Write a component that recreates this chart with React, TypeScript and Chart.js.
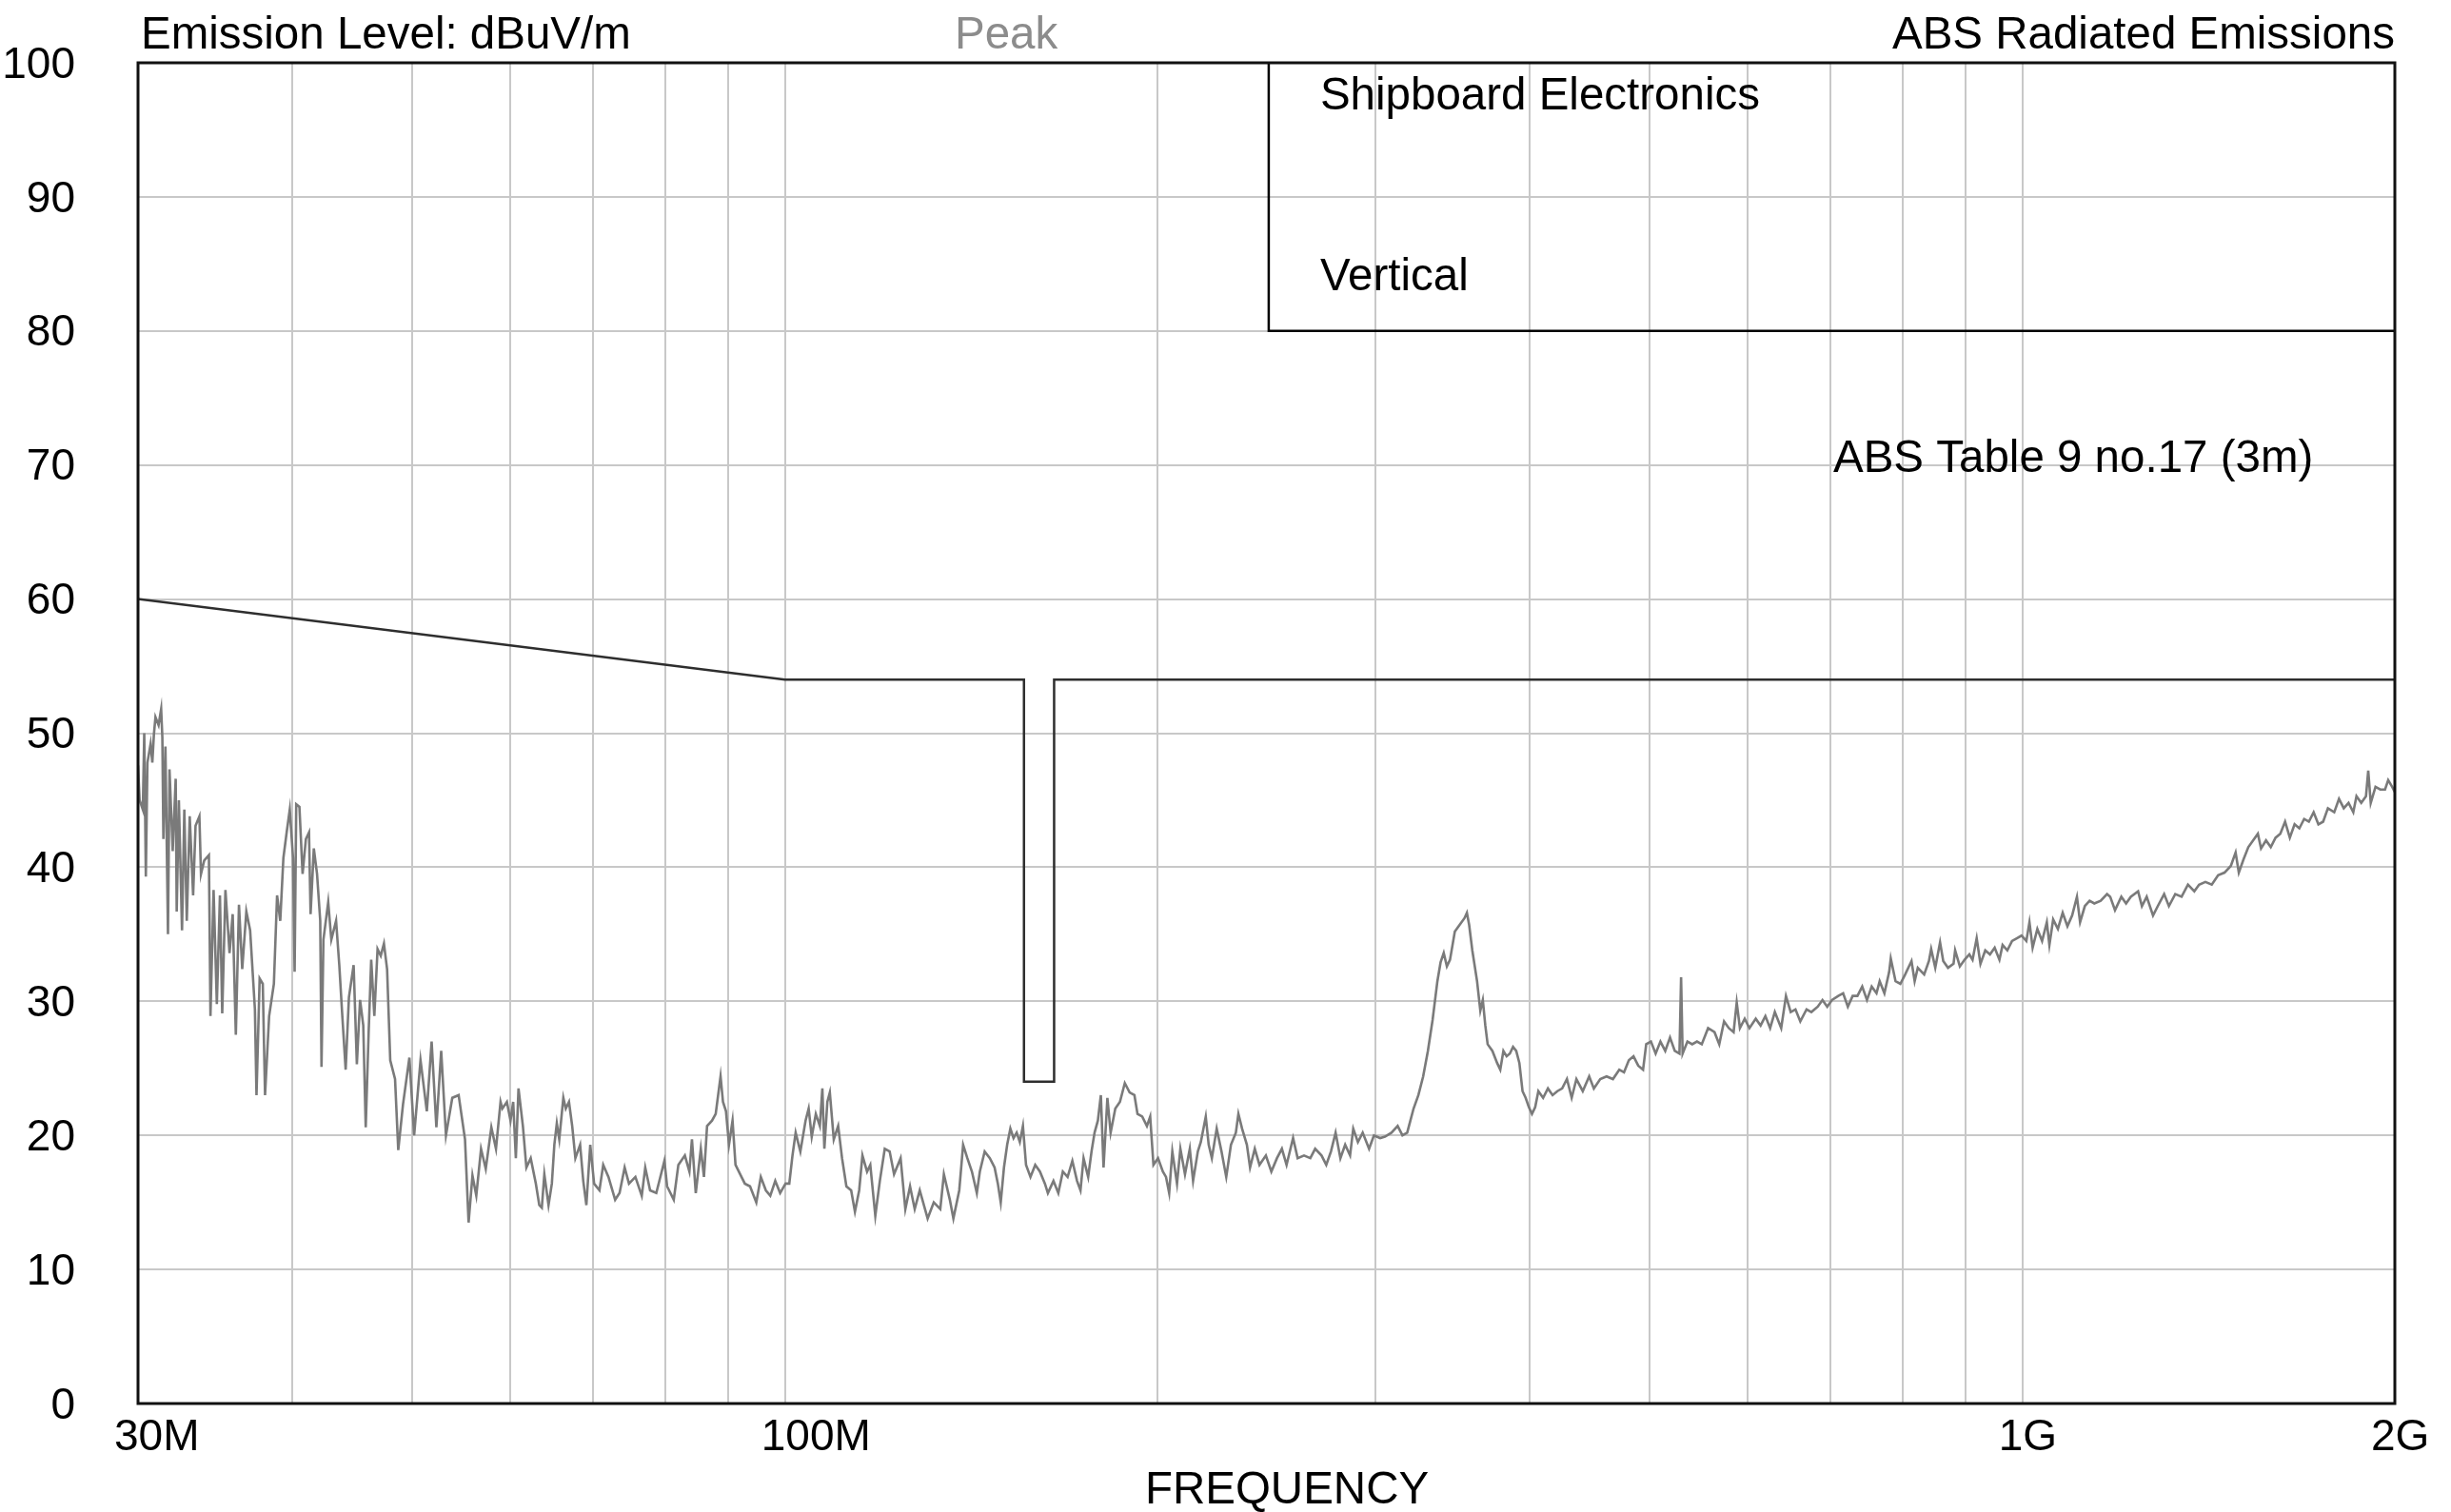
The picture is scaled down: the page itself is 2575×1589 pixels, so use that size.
import React, { useEffect, useRef } from 'react';
import { Chart, registerables } from 'chart.js';

Chart.register(...registerables);

// ---------- data ----------
const traceFreqMHz = [
  30.00, 30.09, 30.27, 30.35, 30.44, 30.53, 30.71, 30.81, 30.90, 30.99, 31.17, 31.32, 31.39, 31.45, 31.57, 31.72, 31.81, 32.00, 32.18, 32.24,
  32.37, 32.56, 32.70, 32.85, 33.03, 33.24, 33.39, 33.63, 33.73, 33.93, 34.23, 34.33, 34.53, 34.74, 34.94, 35.09, 35.30, 35.57, 35.78, 35.99,
  36.20, 36.42, 36.70, 36.96, 37.29, 37.40, 37.62, 37.84, 38.00, 38.29, 38.63, 38.86, 39.09, 39.32, 39.56, 39.79, 40.03, 40.15, 40.27, 40.51,
  40.75, 41.00, 41.24, 41.36, 41.61, 41.86, 42.11, 42.21, 42.36, 42.74, 42.99, 43.37, 43.63, 43.89, 44.15, 44.42, 44.81, 45.08, 45.35, 45.62,
  45.83, 46.08, 46.30, 46.57, 46.85, 47.13, 47.41, 47.69, 47.97, 48.40, 48.69, 49.12, 49.71, 50.15, 50.75, 51.35, 51.81, 52.27, 52.74, 53.21,
  53.84, 54.48, 55.13, 55.5, 55.9, 56.3, 56.8, 57.3, 57.9, 58.4, 58.9,
  59.1, 59.6, 60.0, 60.3, 60.6, 60.9, 61.4, 61.8, 62.3, 62.9, 63.3, 63.6, 63.9, 64.4, 64.8, 65.1, 65.4, 65.7, 66.2, 66.5,
  66.9, 67.3, 67.7, 68.3, 68.7, 69.1, 69.6, 70.1, 70.8, 71.3, 72.0, 72.9, 73.5, 74.2, 74.8, 75.7, 76.6, 77.1, 77.8, 78.7,
  79.9, 80.3, 81.3, 82.0, 83.0, 83.7, 84.1, 84.7, 85.5, 86.0, 86.5, 87.3, 87.9, 88.7, 89.1, 89.6, 90.1, 90.7, 91.2, 92.0,
  92.8, 93.7, 94.8, 95.6, 96.5, 97.3, 98.2, 99.1, 100.1, 100.8, 101.4, 102.0, 102.9, 103.9, 104.5, 105.1, 105.9, 106.7, 107.2, 107.6,
  108.2, 108.7, 109.5, 110.4, 111.2, 112.1, 113.1, 113.9, 114.8, 115.5, 116.5, 117.2, 118.3, 119.3, 120.4, 121.5, 122.5, 124.0, 125.1, 126.2,
  127.3, 128.5, 130.4, 131.9, 133.5, 134.4, 135.9, 136.8, 138.3, 139.3, 140.4, 141.6, 142.9, 143.7, 145.0,
  146.4, 147.7, 148.6, 149.4, 150.3, 151.2, 152.1, 153.0, 153.9, 154.8, 155.7, 156.6, 157.9, 159.3, 160.7, 162.2, 163.1, 164.8, 166.3, 167.7,
  169.2, 170.7, 172.2, 173.3, 174.3, 175.8, 176.9, 177.9, 179.0, 180.0, 180.9, 182.2, 183.3, 184.9, 186.5, 188.2, 189.9, 191.6, 192.7, 194.4,
  196.1, 197.3, 198.5, 200.2, 202.0, 203.2, 204.4, 205.6, 207.4, 208.7, 210.5, 212.4, 213.7, 215.6, 216.8, 218.8, 220.0, 221.3, 223.3, 225.3,
  227.3, 229.3, 231.4, 232.5, 234.1, 236.2, 237.6, 239.7, 241.8, 244.7, 247.2, 249.8, 252.1, 254.3, 257.4, 259.6, 262.7, 265.8, 268.2, 271.4,
  273.8, 276.2, 278.6, 281.1, 283.6, 286.2, 287.9, 290.4, 293.0, 296.5, 299.2, 302.7, 305.4, 309.1, 312.7, 315.5, 318.3, 320.2, 322.1, 325.0,
  327.9, 330.8, 333.7, 336.7, 338.7, 340.7, 342.7, 344.7, 347.8, 350.9, 354.1, 355.7, 357.2, 359.3, 362.5, 364.7,
  366.4, 368.1, 369.7, 373.0, 376.3, 378.5, 380.7, 383.0, 385.3, 387.6, 389.9, 392.2, 394.5, 396.8, 399.2, 401.5, 403.9, 406.3, 409.9, 413.6,
  417.2, 420.9, 424.7, 428.5, 432.3, 436.1, 441.3, 446.6, 450.5, 455.9, 461.3, 466.8, 472.3, 476.5, 480.8, 485.0, 489.3, 493.7, 496.6, 501.0,
  505.4, 509.9, 514.5, 519.1, 523.7, 528.3, 529.9, 531.4, 536.2, 541.0, 545.8, 550.7, 557.2, 563.9, 568.9, 574.0, 579.1, 584.3, 587.7, 591.2,
  596.5, 601.8, 608.9, 614.4, 619.9, 625.4, 630.9, 638.4, 644.1, 649.8, 655.6, 661.5, 669.3, 675.3, 683.3, 689.4, 695.5, 701.7, 710.0, 716.4,
  722.7, 729.2, 735.7, 742.3, 748.9, 755.5, 762.3, 766.8, 773.6, 780.5, 782.8, 789.8, 796.9, 804.0, 813.6, 818.4, 823.2, 833.0, 840.4, 843.9,
  850.4, 858.0, 863.1, 870.8,
  879.8, 882.4, 890.2, 898.1, 906.1, 911.5, 918.5, 925.0, 933.3, 941.5, 949.8, 958.2, 963.9, 972.4, 981.0, 989.7, 998.5, 1007.4, 1013.3, 1019.3,
  1028.3, 1037.4, 1046.6, 1051.6, 1059.0, 1068.4, 1077.9, 1087.5, 1097.1, 1106.9, 1113.4, 1123.3, 1133.3, 1143.3, 1156.9, 1170.7, 1177.6, 1188.1, 1202.2, 1212.9,
  1223.6, 1240.3, 1249.2, 1260.3, 1275.3, 1286.6, 1301.9, 1313.5, 1329.1, 1344.9, 1360.9, 1377.1, 1389.3, 1405.8, 1422.6, 1439.5, 1456.7, 1474.0, 1487.1, 1496.0,
  1509.3, 1522.7, 1536.3, 1550.0, 1559.2, 1573.7, 1587.7, 1601.8, 1616.1, 1630.5, 1645.0, 1659.6, 1674.4, 1689.3, 1704.3, 1719.5, 1734.8, 1750.2, 1765.8, 1786.7,
  1802.6, 1818.7, 1834.9, 1851.2, 1862.2, 1878.8, 1895.5, 1903.4, 1912.3, 1929.3, 1946.5, 1963.8, 1975.4, 1990.0, 2000.0,
];

const traceLevel = [
  47.6, 45.0, 44.3, 50.0, 39.3, 47.8, 49.2, 47.8, 49.9, 51.2, 50.6, 51.8, 49.7, 42.1, 49.0, 35.0, 47.3, 41.2, 46.6, 36.7,
  45.0, 35.3, 44.3, 36.0, 43.8, 37.9, 43.1, 43.8, 39.5, 40.5, 40.9, 28.9, 38.3, 29.8, 37.9, 29.1, 38.3, 33.6, 36.5, 27.5,
  37.2, 32.4, 36.7, 35.3, 29.4, 23.0, 31.7, 31.3, 23.0, 28.9, 31.3, 37.9, 36.0, 40.7, 42.6, 44.3, 40.7, 32.2, 44.7, 44.5,
  39.5, 42.1, 42.6, 36.5, 41.4, 39.5, 36.0, 25.1, 34.6, 37.4, 34.6, 36.0, 32.7, 28.7, 24.9, 30.3, 32.7, 25.3, 30.1, 28.2,
  20.6, 27.7, 33.1, 28.9, 33.9, 33.4, 34.3, 32.4, 25.6, 24.2, 18.9, 22.3, 25.8, 20.0, 25.6, 21.8, 27.0, 20.6, 26.3, 20.0,
  22.8, 23.0, 19.7, 13.5, 17.0, 15.5, 19.0, 17.5, 20.6, 19.0, 22.5,
  22.0, 22.5, 21.1, 22.5, 18.3, 23.5, 20.7, 17.6, 18.3, 16.4, 14.8, 14.6, 17.1, 14.8, 16.4, 19.3, 20.9, 19.7, 22.8, 22.0,
  22.5, 20.7, 18.3, 19.3, 16.6, 14.8, 19.3, 16.4, 15.9, 17.8, 16.9, 15.2, 15.7, 17.6, 16.4, 16.9, 15.5, 17.6, 15.9, 15.7,
  18.1, 16.2, 15.2, 17.8, 18.5, 17.3, 19.7, 15.7, 19.0, 16.9, 20.7, 21.1, 21.6, 24.4, 22.5, 21.8, 19.3, 21.1, 17.8, 17.1,
  16.4, 16.2, 15.0, 16.9, 15.9, 15.5, 16.6, 15.7, 16.4, 16.4, 18.5, 20.2, 18.8, 21.1, 22.0, 19.9, 21.6, 20.7, 23.5, 19.0,
  22.5, 23.2, 19.7, 20.7, 18.3, 16.2, 15.9, 14.3, 15.9, 18.5, 17.3, 17.8, 14.0, 16.6, 19.0, 18.8, 17.1, 18.3, 14.5, 16.2,
  14.5, 15.9, 13.8, 15.0, 14.5, 17.1, 15.2, 13.8, 15.9, 19.3, 18.3, 17.3, 15.7, 17.3, 18.8,
  18.3, 17.6, 16.4, 15.0, 17.6, 19.3, 20.5, 19.8, 20.2, 19.5, 20.7, 17.8, 16.9, 17.8, 17.3, 16.4, 15.7, 16.6, 15.7, 17.3,
  16.9, 18.1, 16.6, 15.9, 18.3, 16.9, 18.8, 20.2, 21.1, 23.0, 17.6, 22.8, 20.2, 22.0, 22.5, 23.9, 23.2, 23.0, 21.6, 21.4,
  20.7, 21.4, 17.8, 18.3, 17.3, 16.9, 15.7, 18.8, 16.4, 19.0, 17.1, 19.0, 16.6, 18.8, 19.5, 21.4, 19.3, 18.3, 20.5, 18.8,
  16.9, 19.3, 20.2, 21.6, 20.5, 19.3, 17.6, 19.0, 17.8, 18.5, 17.3, 18.3, 19.0, 17.8, 19.8, 18.3, 18.5, 18.3, 19.0, 18.5,
  17.8, 18.8, 20.2, 18.3, 19.3, 18.5, 20.5, 19.5, 20.2, 19.0, 20.0, 19.8, 19.9, 20.2, 20.7, 20.0, 20.2, 21.1, 22.0, 23.0,
  24.4, 26.3, 28.6, 31.5, 32.9, 33.6, 32.6, 33.1, 35.2, 35.7, 36.2, 36.6, 35.7, 33.8, 31.5, 29.3,
  30.1, 28.2, 26.8, 26.3, 25.4, 24.9, 26.3, 25.9, 26.1, 26.6, 26.3, 25.4, 23.3, 22.8, 22.1, 21.6, 22.1, 23.3, 22.8, 23.5,
  23.0, 23.3, 23.5, 24.2, 22.8, 24.2, 23.3, 24.4, 23.5, 24.2, 24.4, 24.2, 24.9, 24.7, 25.6, 25.9, 25.2, 24.9, 26.8, 27.0,
  26.1, 27.0, 26.3, 27.3, 26.3, 26.1, 31.8, 26.1, 27.0, 26.8, 27.0, 26.8, 28.0, 27.7, 26.8, 28.5, 28.0, 27.7, 29.9, 28.0,
  28.7, 28.0, 28.7, 28.2, 28.9, 28.0, 29.2, 28.0, 30.4, 29.2, 29.4, 28.5, 29.4, 29.2, 29.6, 30.1, 29.6, 30.1, 30.4, 30.6,
  29.6, 30.4, 30.4, 31.1, 30.1, 31.1, 30.6, 31.5, 30.6, 32.2, 33.2, 31.5, 31.3, 32.0, 33.0, 31.5, 32.5, 32.0, 33.0, 33.9,
  32.5, 34.4, 33.0, 32.5,
  32.8, 33.8, 32.6, 33.1, 33.5, 33.1, 34.7, 32.8, 33.8, 33.5, 34.0, 33.1, 34.2, 33.8, 34.5, 34.7, 34.9, 34.5, 35.9, 34.0,
  35.4, 34.5, 35.9, 34.2, 36.1, 35.4, 36.6, 35.6, 36.4, 37.8, 35.9, 37.1, 37.5, 37.3, 37.5, 38.0, 37.8, 36.8, 37.8, 37.3,
  37.8, 38.2, 37.1, 37.8, 36.4, 37.1, 38.0, 37.1, 38.0, 37.8, 38.7, 38.2, 38.7, 38.9, 38.7, 39.4, 39.6, 40.1, 41.1, 39.6,
  40.6, 41.5, 42.0, 42.5, 41.4, 42.0, 41.5, 42.2, 42.5, 43.4, 42.2, 43.2, 42.9, 43.6, 43.4, 44.1, 43.2, 43.4, 44.4, 44.1,
  45.1, 44.4, 44.8, 44.1, 45.3, 44.8, 45.3, 47.2, 44.8, 46.0, 45.8, 45.8, 46.5, 46.0, 45.6,
];

const limitFreqMHz = [30, 100, 156, 156, 165, 165, 2000];
const limitLevel = [60, 54, 54, 24, 24, 54, 54];

const boxFreqMHz = [246, 246, 2000];
const boxLevel = [100, 80, 80];

const gridFreqMHz = [30, 40, 50, 60, 70, 80, 90, 100, 200, 300, 400, 500, 600, 700, 800, 900, 1000, 2000];
const labeledFreqMHz = [30, 100, 1000, 2000];
const xTickLabels = ['30M', '100M', '1G', '2G'];

const yMin = 0;
const yMax = 100;
const yStep = 10;

const headerLeft = 'Emission Level: dBuV/m';
const headerMid = 'Peak';
const headerRight = 'ABS Radiated Emissions';
const boxLines = ['Shipboard Electronics', 'Vertical'];
const limitName = 'ABS Table 9 no.17 (3m)';
const xTitle = 'FREQUENCY';

// ---------- styles ----------
const FONT = "'Liberation Sans', Arial, Helvetica, sans-serif";
const W = 2575;
const H = 1589;

const toPoints = (xs: number[], ys: number[]) => xs.map((x, i) => ({ x, y: ys[i] }));

const overlayPlugin = {
  id: 'overlay',
  afterDraw(chart: any) {
    const { ctx, chartArea: a, scales } = chart;
    const xs = scales.x;
    ctx.save();
    // frame
    ctx.strokeStyle = '#111';
    ctx.lineWidth = 3;
    ctx.strokeRect(a.left, a.top, a.right - a.left, a.bottom - a.top);

    ctx.font = `47.5px ${FONT}`;
    ctx.textBaseline = 'middle';
    // header
    ctx.fillStyle = '#000';
    ctx.textAlign = 'left';
    ctx.fillText(headerLeft, a.left + 3, a.top - 28);
    ctx.fillStyle = '#8c8c8c';
    ctx.fillText(headerMid, 1003, a.top - 28);
    ctx.fillStyle = '#000';
    ctx.textAlign = 'right';
    ctx.fillText(headerRight, a.right, a.top - 28);

    // box texts
    const bx = xs.getPixelForValue(boxFreqMHz[0]) + 54;
    ctx.textAlign = 'left';
    ctx.fillText(boxLines[0], bx, a.top + 36);
    ctx.fillText(boxLines[1], bx, a.top + 226);
    ctx.fillText(limitName, a.right - 590, a.top + 417);

    // x title
    ctx.textAlign = 'center';
    ctx.fillText(xTitle, 1352, 1567);
    ctx.restore();
  },
};

export default function App() {
  const ref = useRef<HTMLCanvasElement | null>(null);

  useEffect(() => {
    const canvas = ref.current;
    if (!canvas) return;
    const chart = new Chart(canvas, {
      type: 'line',
      data: {
        datasets: [
          {
            label: 'box',
            data: toPoints(boxFreqMHz, boxLevel),
            borderColor: '#000',
            borderWidth: 2.5,
            pointRadius: 0,
            fill: false,
          },
          {
            label: 'limit',
            data: toPoints(limitFreqMHz, limitLevel),
            borderColor: '#2e2e2e',
            borderWidth: 2.5,
            pointRadius: 0,
            fill: false,
          },
          {
            label: 'peak',
            data: toPoints(traceFreqMHz, traceLevel),
            borderColor: '#7a7a7a',
            borderWidth: 2.6,
            pointRadius: 0,
            fill: false,
          },
        ],
      },
      options: {
        animation: false,
        responsive: false,
        devicePixelRatio: 1,
        layout: { padding: { left: 0, top: 66, right: W - 2516, bottom: 0 } },
        plugins: {
          legend: { display: false },
          tooltip: { enabled: false },
          title: { display: false },
        },
        scales: {
          x: {
            type: 'logarithmic',
            min: 30,
            max: 2000,
            border: { display: false },
            grid: { color: '#c8c8c8', lineWidth: 2, drawTicks: false },
            afterBuildTicks: (scale: any) => {
              scale.ticks = gridFreqMHz.map((v) => ({ value: v }));
            },
            afterFit: (scale: any) => {
              scale.height = H - 1475;
              scale.paddingLeft = 0;
              scale.paddingRight = 0;
            },
            ticks: {
              autoSkip: false,
              maxRotation: 0,
              minRotation: 0,
              align: 'start',
              labelOffset: -25,
              padding: 9,
              color: '#000',
              font: { family: FONT, size: 46 },
              callback: (value: any) => {
                const i = labeledFreqMHz.indexOf(Number(value));
                return i >= 0 ? xTickLabels[i] : '';
              },
            },
          },
          y: {
            type: 'linear',
            min: yMin,
            max: yMax,
            border: { display: false },
            grid: { color: '#c8c8c8', lineWidth: 2, drawTicks: false },
            afterFit: (scale: any) => {
              scale.width = 145;
              scale.paddingTop = 0;
              scale.paddingBottom = 0;
            },
            ticks: {
              stepSize: yStep,
              padding: 66,
              labelOffset: 3,
              color: '#000',
              font: { family: FONT, size: 46 },
            },
          },
        },
      } as any,
      plugins: [overlayPlugin],
    });
    return () => chart.destroy();
  }, []);

  return (
    <div style={{ position: 'absolute', left: 0, top: 0, width: W, height: H, background: '#fff' }}>
      <canvas ref={ref} width={W} height={H} style={{ display: 'block', width: W, height: H }} />
    </div>
  );
}
